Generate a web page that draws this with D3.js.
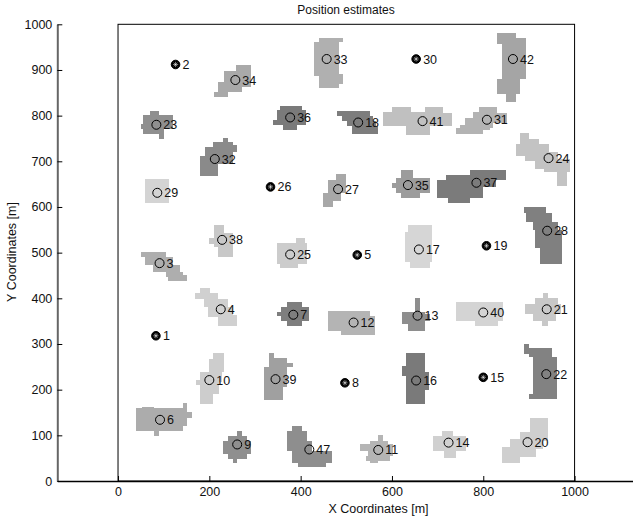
<!DOCTYPE html>
<html>
<head>
<meta charset="utf-8">
<script src="https://cdn.jsdelivr.net/npm/d3@7"></script>
<style>
  html, body { margin: 0; padding: 0; background: #fff; }
  svg { display: block; font-family: "Liberation Sans", Arial, sans-serif; }
</style>
</head>
<body>
<svg id="chart" width="633" height="519"></svg>
<script>
'use strict';

// Anchor nodes (known positions)
const anchorIds = [1, 2, 5, 8, 15, 19, 26, 30];
const anchorX = [83, 126, 524, 497, 800, 807, 334, 653];
const anchorY = [318, 912, 495, 215, 227, 515, 644, 924];

// Estimated nodes
const estIds = [34, 23, 32, 29, 38, 3, 4, 33, 36, 18, 41, 42, 31, 24, 37, 35, 27, 28, 17, 25,
                7, 10, 39, 6, 9, 47, 12, 13, 40, 21, 16, 22, 11, 14, 20];
const estX = [257, 84, 212, 86, 228, 91, 225, 457, 377, 526, 667, 865, 808, 943, 785, 635, 482, 940, 659, 377,
              384, 200, 345, 92, 261, 419, 516, 656, 800, 939, 653, 938, 570, 724, 897];
const estY = [878, 780, 705, 631, 528, 477, 376, 924, 796, 785, 788, 924, 791, 707, 653, 648, 639, 548, 507, 496,
              364, 221, 223, 134, 80, 69, 347, 362, 369, 376, 220, 234, 68, 84, 85];

// Grey shade of each estimate region
const blobShade = ['#a9a9a9', '#8f8f8f', '#8a8a8a', '#d4d4d4', '#c8c8c8', '#aeaeae', '#d0d0d0', '#b0b0b0', '#7a7a7a', '#7d7d7d',
                   '#c0c0c0', '#a5a5a5', '#b3b3b3', '#c3c3c3', '#7b7b7b', '#9c9c9c', '#a8a8a8', '#808080', '#d6d6d6', '#cccccc',
                   '#7e7e7e', '#cdcdcd', '#a0a0a0', '#acacac', '#8f8f8f', '#8e8e8e', '#b4b4b4', '#8e8e8e', '#d4d4d4', '#c8c8c8',
                   '#7a7a7a', '#828282', '#b5b5b5', '#d0d0d0', '#cfcfcf'];

// Region cells as [x0, x1, y0, y1] in metres, one list per estimate
const blobRects = [
  [[258,291,898,911],[232,291,863,898],[219,272,852,874],[210,241,841,852]],
  [[69,89,802,811],[55,120,771,802],[50,55,771,782],[55,101,760,771],[89,101,749,760]],
  [[230,241,742,751],[208,252,716,742],[252,261,720,735],[190,252,694,731],[179,219,668,712]],
  [[58,111,609,661]],
  [[210,232,542,561],[210,252,513,542],[199,210,520,531],[219,252,490,513]],
  [[50,106,490,502],[58,120,473,490],[77,135,458,473],[106,142,447,458],[110,151,439,451]],
  [[179,201,411,422],[169,219,398,411],[188,241,382,398],[197,252,360,382],[219,261,339,363]],
  [[441,492,961,970],[430,483,887,961],[483,492,869,891],[441,483,860,887]],
  [[355,402,812,822],[349,412,780,812],[340,349,780,790],[361,391,768,780]],
  [[479,552,800,811],[490,559,789,800],[502,565,778,789],[512,570,760,778]],
  [[601,642,809,820],[672,712,809,820],[580,712,777,809],[712,732,777,805],[630,683,758,777]],
  [[831,872,970,980],[831,840,957,970],[840,894,880,970],[831,881,847,880],[850,872,829,847]],
  [[790,831,809,820],[778,831,783,809],[831,851,783,805],[759,821,772,794],[748,814,769,780],[740,800,759,772]],
  [[881,901,749,761],[881,921,738,749],[872,943,712,738],[892,964,701,720],[913,990,683,705],[932,990,676,690],[961,983,645,676]],
  [[770,850,670,681],[827,850,659,670],[719,827,644,670],[699,800,619,659],[723,770,608,619]],
  [[620,645,663,681],[609,683,630,663],[601,609,641,653],[620,661,619,630]],
  [[478,500,659,672],[460,500,630,659],[449,489,612,630],[449,471,599,612]],
  [[889,938,586,601],[894,951,568,586],[909,964,550,568],[913,973,510,550],[924,973,475,510]],
  [[635,688,545,560],[629,688,480,545],[640,683,467,480]],
  [[390,410,521,531],[348,414,475,521],[355,395,466,475]],
  [[371,402,380,391],[358,419,351,380],[349,358,361,371],[371,402,339,351]],
  [[209,232,267,280],[200,232,238,267],[180,227,216,238],[171,180,210,222],[180,222,191,216],[180,209,169,191]],
  [[330,342,269,280],[330,371,258,269],[330,383,249,258],[320,371,205,249],[320,361,178,205]],
  [[39,142,110,159],[52,79,159,163],[142,152,121,171],[152,161,139,150],[79,90,99,110]],
  [[261,271,99,110],[241,282,88,99],[229,291,59,88],[241,282,48,59],[251,261,39,48]],
  [[380,402,110,121],[370,413,88,110],[370,424,66,88],[380,468,40,66],[395,455,30,40]],
  [[460,551,329,373],[489,562,320,362]],
  [[650,662,371,400],[621,672,344,371],[672,683,351,366],[635,672,329,344]],
  [[741,843,351,391],[781,832,339,351]],
  [[931,942,400,412],[913,964,388,400],[891,971,366,388],[909,960,351,366],[929,942,339,351]],
  [[631,672,169,280],[621,631,229,251],[672,681,200,238]],
  [[889,900,278,300],[900,951,271,291],[909,951,191,271],[900,951,180,191],[951,962,180,271]],
  [[570,580,88,101],[551,591,81,88],[531,602,66,81],[548,602,55,66],[544,595,44,55],[551,570,39,44]],
  [[710,734,99,110],[690,763,66,99],[715,741,50,66]],
  [[902,942,107,139],[880,942,88,107],[858,931,70,92],[840,916,52,75],[840,880,39,52]]
];

const xTicks = [0, 200, 400, 600, 800, 1000];
const yTicks = [0, 100, 200, 300, 400, 500, 600, 700, 800, 900, 1000];

const svg = d3.select('#chart');
const x = d3.scaleLinear().domain([-133, 1133]).range([57.3, 635.3]);
const y = d3.scaleLinear().domain([0, 1000]).range([481, 24.3]);

// Estimate regions
const blobs = svg.append('g').attr('shape-rendering', 'crispEdges');
blobRects.forEach((rects, i) => {
  blobs.append('g')
    .attr('fill', blobShade[i])
    .selectAll('rect')
    .data(rects)
    .join('rect')
    .attr('x', d => x(d[0]))
    .attr('y', d => y(d[3]))
    .attr('width', d => x(d[1]) - x(d[0]))
    .attr('height', d => y(d[2]) - y(d[3]));
});

// Deployment square
svg.append('rect')
  .attr('x', x(0)).attr('y', y(1000))
  .attr('width', x(1000) - x(0)).attr('height', y(0) - y(1000))
  .attr('fill', 'none').attr('stroke', '#000').attr('stroke-width', 1);

// Axes
const fmt = d3.format('d');
const yAxis = svg.append('g')
  .attr('transform', `translate(${x.range()[0]},0)`)
  .call(d3.axisLeft(y).tickValues(yTicks).tickFormat(fmt).tickSizeInner(-5).tickSizeOuter(0).tickPadding(5));
yAxis.select('.domain').attr('stroke', '#666').attr('stroke-width', 2);

const xAxis = svg.append('g')
  .attr('transform', `translate(0,${y(0)})`)
  .call(d3.axisBottom(x).tickValues(xTicks).tickFormat(fmt).tickSizeInner(-5).tickSizeOuter(0).tickPadding(6));
xAxis.select('.domain').attr('stroke', '#000').attr('stroke-width', 1.3);

svg.selectAll('.tick text')
  .attr('font-family', '"Liberation Sans", Arial, sans-serif')
  .attr('font-size', 12.5).attr('fill', '#111');

// Estimated positions
const est = svg.append('g');
estIds.forEach((id, i) => {
  est.append('circle')
    .attr('cx', x(estX[i])).attr('cy', y(estY[i])).attr('r', 4.5)
    .attr('fill', 'none').attr('stroke', '#000').attr('stroke-width', 1);
  est.append('text')
    .attr('x', x(estX[i]) + 7).attr('y', y(estY[i]) + 4.5)
    .attr('font-size', 12.5).attr('fill', '#111')
    .text(id);
});

// Anchors
const anc = svg.append('g');
anchorIds.forEach((id, i) => {
  const cx = x(anchorX[i]), cy = y(anchorY[i]);
  anc.append('circle').attr('cx', cx).attr('cy', cy).attr('r', 4.3)
    .attr('fill', '#000').attr('stroke', '#000');
  [0, 45, 90, 135].forEach(a => {
    const r = a * Math.PI / 180;
    anc.append('line')
      .attr('x1', cx - 2.6 * Math.cos(r)).attr('y1', cy - 2.6 * Math.sin(r))
      .attr('x2', cx + 2.6 * Math.cos(r)).attr('y2', cy + 2.6 * Math.sin(r))
      .attr('stroke', '#fff').attr('stroke-width', 0.5);
  });
  anc.append('text')
    .attr('x', cx + 7).attr('y', cy + 4.5)
    .attr('font-size', 12.5).attr('fill', '#111')
    .text(id);
});

// Titles
svg.append('text').attr('x', 346).attr('y', 14).attr('text-anchor', 'middle')
  .attr('font-size', 12).attr('fill', '#111').text('Position estimates');
svg.append('text').attr('x', 378.5).attr('y', 513).attr('text-anchor', 'middle')
  .attr('font-size', 12.5).attr('fill', '#111').text('X Coordinates [m]');
svg.append('text').attr('transform', 'translate(16,252) rotate(-90)').attr('text-anchor', 'middle')
  .attr('font-size', 12.5).attr('fill', '#111').text('Y Coordinates [m]');
</script>
</body>
</html>
